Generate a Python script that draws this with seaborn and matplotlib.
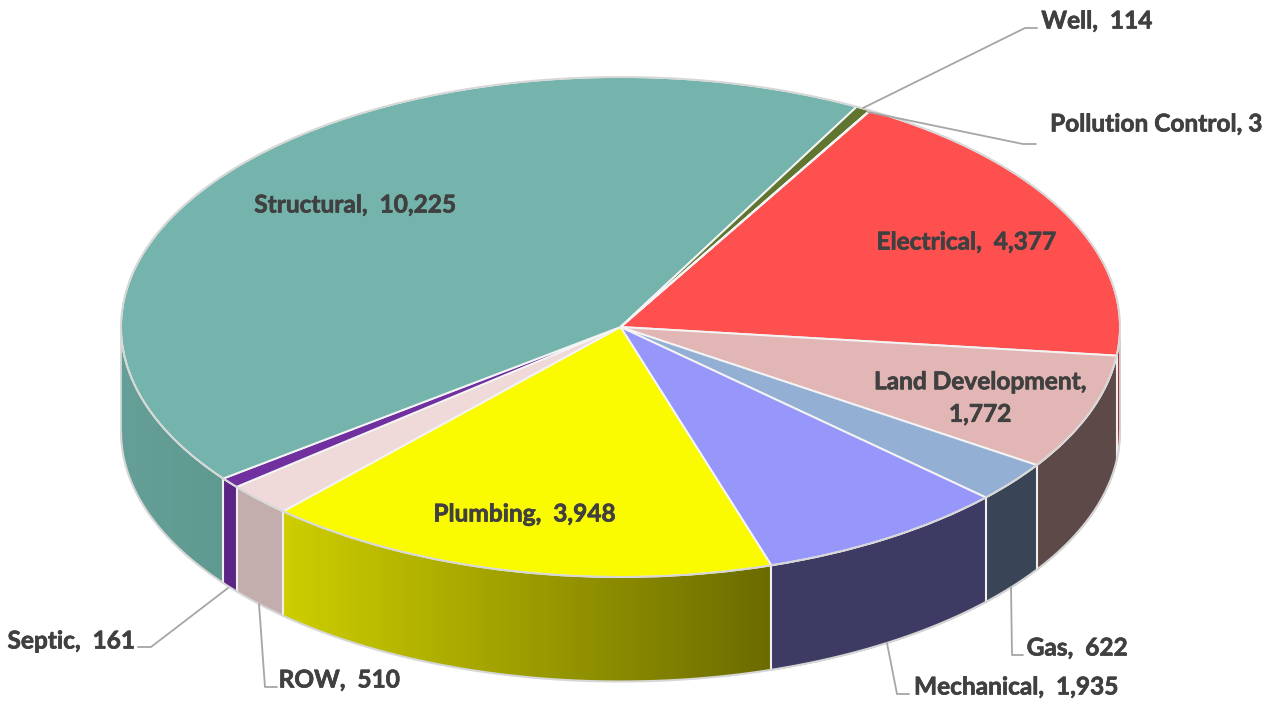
import numpy as np
import matplotlib
matplotlib.use("Agg")
import matplotlib.pyplot as plt
import matplotlib.patheffects as pe
from matplotlib.colors import ListedColormap
from matplotlib.patches import Polygon
import seaborn as sns

# ---- data (clockwise from the Electrical slice) ----
categories = ["Electrical", "Land Development", "Gas", "Mechanical", "Plumbing",
              "ROW", "Septic", "Structural", "Well", "Pollution Control"]
values = [4377, 1772, 622, 1935, 3948, 510, 161, 10225, 114, 3]

# ---- styles ----
top_colors = ["#FF5050", "#E2B6B4", "#93B0D4", "#9797FB", "#FAFA00",
              "#F0D9D9", "#7030A0", "#75B4AC", "#5F7530", "#A5A5A5"]
wall_left = ["#A03030", "#5D4A48", "#394556", "#3D3A63", "#CECE00",
             "#C4ADAD", "#5B2585", "#659F97", "#4A5C26", "#808080"]
wall_right = ["#A03030", "#5D4A48", "#394556", "#3D3A63", "#6B6B00",
              "#C4ADAD", "#5B2585", "#5F9A91", "#4A5C26", "#808080"]
TEXT = "#404040"
LEADER = "#A6A6A6"
FIRST_ANGLE = 30.0      # clockwise from north
W, H = 1280, 701
CX, CY, RX, RY, DEPTH_PX = 620.5, 327, 499.5, 250, 104.5
DEPTH = DEPTH_PX / RY

sns.set_theme(style="white")
plt.rcParams["font.family"] = ["Lato", "DejaVu Sans"]
plt.rcParams["font.weight"] = "bold"

fig = plt.figure(figsize=(W / 100, H / 100), dpi=100, facecolor="white")
ax = fig.add_axes([0, 0, 1, 1])
ax.set_axis_off()

# ---- slice angles from the values ----
vals = np.array(values, dtype=float)
edges = FIRST_ANGLE + np.concatenate([[0], np.cumsum(vals)]) / vals.sum() * 360


def px(theta):
    t = np.radians(theta)
    return np.sin(t), np.cos(t)


# ---- side walls ----
for i in range(len(vals)):
    for shift in (0, -360):
        a = max(edges[i] + shift, 90)
        b = min(edges[i + 1] + shift, 270)
        if b <= a:
            continue
        th = np.linspace(a, b, max(int((b - a) * 4), 2) + 1)
        x, y = px(th)
        if wall_left[i] == wall_right[i]:
            ax.fill_between(x, y, y - DEPTH, color=wall_left[i], lw=0, zorder=1)
            continue
        cmap = ListedColormap(sns.blend_palette([wall_left[i], wall_right[i]], 256))
        grad = np.linspace(0, 1, 256)[None, :]
        im = ax.imshow(grad, cmap=cmap, aspect="auto", zorder=1, interpolation="bilinear",
                       extent=(x.min(), x.max(), y.min() - DEPTH, y.max()))
        poly = Polygon(np.r_[np.c_[x, y], np.c_[x[::-1], y[::-1] - DEPTH]],
                       transform=ax.transData, fc="none", ec="none")
        im.set_clip_path(poly)

# ---- top face ----
wedges, _ = ax.pie(vals, colors=top_colors, startangle=90 - FIRST_ANGLE, counterclock=False,
                   radius=1, center=(0, 0),
                   wedgeprops=dict(edgecolor="#F4F4F4", linewidth=1.4))
for w in wedges:
    w.set_zorder(3)

# ---- wall separators and outlines ----
for e in edges:
    e = e % 360
    if 90 < e < 270:
        x, y = px(e)
        ax.plot([x, x], [y, y - DEPTH], color="#EFEFEF", lw=1.5, zorder=2,
                solid_capstyle="butt")
th = np.linspace(0, 360, 721)
x, y = px(th)
ax.plot(x, y, color="#D6D6D6", lw=1.3, zorder=4)
th = np.linspace(90, 270, 361)
x, y = px(th)
ax.plot(x, y - DEPTH, color="#D6D6D6", lw=1.5, zorder=2)
for s in (90, 270):
    x, y = px(s)
    ax.plot([x, x], [y, y - DEPTH], color="#D6D6D6", lw=1.3, zorder=2)

ax.set_aspect("auto")
ax.set_xlim(-CX / RX, (W - CX) / RX)
ax.set_ylim(-(H - CY) / RY, CY / RY)

# ---- labels and leader lines ----
ov = fig.add_axes([0, 0, 1, 1], facecolor="none")
ov.set_axis_off()
ov.set_xlim(0, W)
ov.set_ylim(H, 0)

FS = 17.6
labels = [
    ("Structural,  10,225", 355, 205),
    ("Electrical,  4,377", 966, 242),
    ("Land Development,\n1,772", 980, 398),
    ("Plumbing,  3,948", 524, 514),
    ("Well,  114", 1096.5, 21),
    ("Pollution Control, 3", 1156, 124),
    ("Septic,  161", 71, 641),
    ("ROW,  510", 339, 680),
    ("Gas,  622", 1077, 648),
    ("Mechanical,  1,935", 1016, 687),
]
heavier = [pe.withStroke(linewidth=0.5, foreground=TEXT)]
for txt, x, y in labels:
    ov.text(x, y, txt, ha="center", va="center", fontsize=FS, color=TEXT,
            fontweight="bold", linespacing=1.5, path_effects=heavier)

leaders = [
    ([863, 1025, 1037], [108, 28, 28]),
    ([868, 1023, 1036], [112, 144, 144]),
    ([228, 151, 138], [588, 647, 647]),
    ([259, 265, 277], [604, 687, 687]),
    ([1011, 1012, 1023], [587, 655, 655]),
    ([887, 897, 909], [643, 694, 694]),
]
for xs, ys in leaders:
    ov.plot(xs, ys, color=LEADER, lw=1.3)

fig.savefig("out.png", dpi=100, facecolor="white")
